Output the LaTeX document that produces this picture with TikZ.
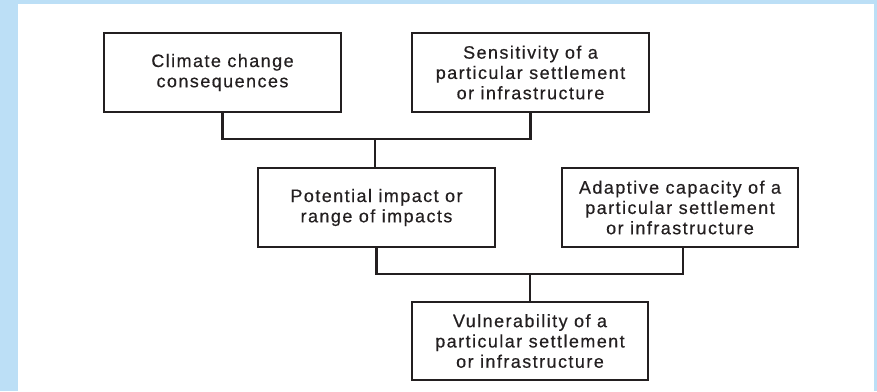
\documentclass[tikz,border=0pt]{standalone}
\usepackage{fontspec}
\setmainfont{Liberation Sans}[LetterSpace=8,FakeBold=0.4]
\definecolor{frameblue}{HTML}{BCDFF6}
\definecolor{ink}{HTML}{231F20}
\begin{document}
\begin{tikzpicture}[x=1pt,y=-1pt,
  box/.style={draw=ink,line width=2.4pt,fill=white,inner sep=0pt,
    text=ink,align=center,font=\fontsize{18}{20.3}\selectfont},
  link/.style={draw=ink,line width=2.3pt}]
% page frame
\fill[frameblue] (0,0) rectangle (877,391);
\fill[white] (18,4) rectangle (874,391);
\useasboundingbox (0,0) rectangle (877,391);
% boxes given by their corners
\node[box,minimum width=237pt,minimum height=79pt] (ccc) at (222.5,72.5) {Climate change\\consequences};
\node[box,minimum width=237pt,minimum height=79pt] (sens) at (530.5,72.5) {Sensitivity of a\\particular settlement\\or infrastructure};
\node[box,minimum width=237pt,minimum height=79pt] (pot) at (376.5,207.5) {Potential impact or\\range of impacts};
\node[box,minimum width=236pt,minimum height=79pt] (adapt) at (680,207.5) {Adaptive capacity of a\\particular settlement\\or infrastructure};
\node[box,minimum width=236pt,minimum height=78pt] (vuln) at (530,341) {Vulnerability of a\\particular settlement\\or infrastructure};
% junction points
\coordinate (j1) at (375,139);
\coordinate (j2) at (530,274);
\draw[link] (ccc.south) |- (j1) -| (sens.south);
\draw[link] (j1) -- (pot.north -| j1);
\draw[link] (pot.south) |- (j2) -| ([xshift=3pt]adapt.south);
\draw[link] (j2) -- (vuln.north);
\end{tikzpicture}
\end{document}
